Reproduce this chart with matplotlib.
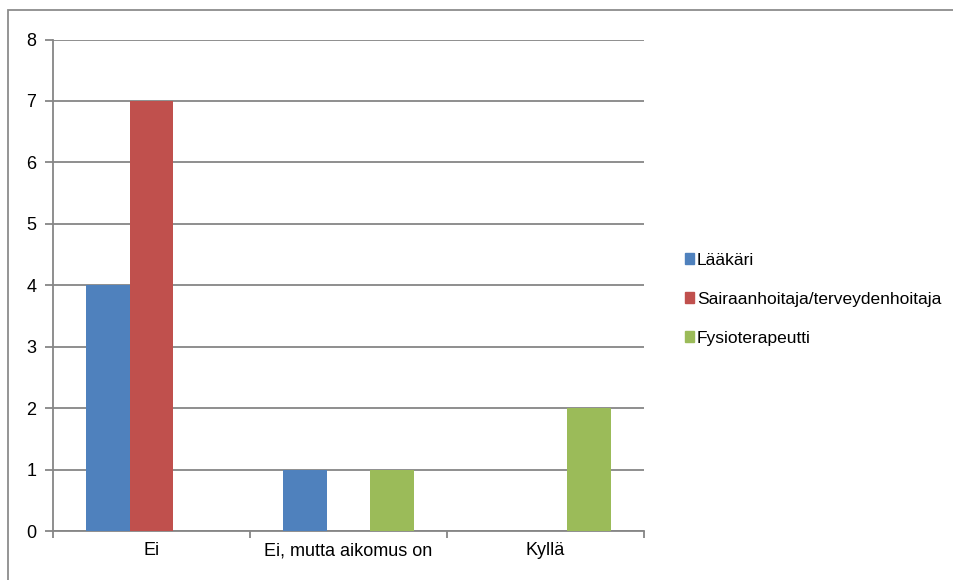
import matplotlib.pyplot as plt
import matplotlib.patches as mpatches
import numpy as np

plt.rcParams['font.family'] = ['Liberation Sans Narrow', 'DejaVu Sans Condensed', 'Liberation Sans', 'DejaVu Sans']

categories = ['Ei', 'Ei, mutta aikomus on', 'Kyllä']
series_names = ['Lääkäri', 'Sairaanhoitaja/terveydenhoitaja', 'Fysioterapeutti']
laakari = [4, 1, 0]
sairaanhoitaja = [7, 0, 0]
fysioterapeutti = [0, 1, 2]
colors = ['#4F81BD', '#C0504D', '#9BBB59']
yticks = [0, 1, 2, 3, 4, 5, 6, 7, 8]

W, H = 954, 580
fig = plt.figure(figsize=(W / 100, H / 100), dpi=100)
ax = fig.add_axes([53 / W, 1 - 531 / H, (644 - 53) / W, (531 - 39.5) / H])

x = np.arange(len(categories))
bw = 1 / 4.5
allSeries = [laakari, sairaanhoitaja, fysioterapeutti]
for i, vals in enumerate(allSeries):
    ax.bar(x + (i - 1) * bw, vals, width=bw, color=colors[i], label=series_names[i], zorder=3)

ax.set_xlim(-0.5, 2.5)
ax.set_ylim(0, 8)
ax.set_yticks(yticks)
ax.yaxis.grid(True, color='#868686', linewidth=1.3, zorder=0)
for s in ['top', 'right']:
    ax.spines[s].set_visible(False)
for s in ['left', 'bottom']:
    ax.spines[s].set_color('#868686')
    ax.spines[s].set_linewidth(1.3)

# category boundary ticks on x axis, labels at centers
ax.set_xticks([-0.5, 0.5, 1.5, 2.5])
ax.set_xticklabels([])
ax.set_xticks(x, minor=True)
ax.set_xticklabels(categories, minor=True, fontsize=13)
ax.tick_params(axis='x', which='major', length=5, color='#868686', width=1.3)
ax.tick_params(axis='x', which='minor', length=0, pad=8)
ax.tick_params(axis='y', length=6, color='#868686', width=1.3, labelsize=13, pad=6)

handles = [mpatches.Patch(color=c, label=n) for c, n in zip(colors, series_names)]
fig.legend(handles=handles, loc='upper left', bbox_to_anchor=(676 / W, 1 - 244 / H),
           frameon=False, fontsize=12.5, handlelength=0.55, handleheight=0.55,
           handletextpad=0.15, labelspacing=1.38, borderpad=0)

# outer chart frame (cut off at right and bottom)
fig.add_artist(mpatches.Rectangle((8 / W, -0.1), 1.1, 1 - 10 / H + 0.1,
                                  transform=fig.transFigure, fill=False,
                                  edgecolor='#8C8C8C', linewidth=1.3))

fig.savefig('out.png', dpi=100)
